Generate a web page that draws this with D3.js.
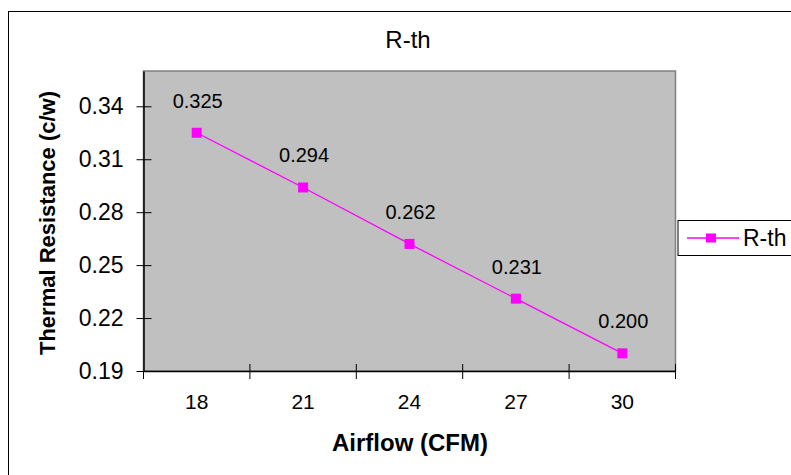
<!DOCTYPE html>
<html lang="en">
<head>
    <meta charset="UTF-8">
    <title>R-th</title>
    <script src="https://cdn.jsdelivr.net/npm/d3@7"></script>
    <style>
        body { margin: 0; background: #fff; }
        text { font-family: "Liberation Sans", Arial, sans-serif; fill: #000; }
    </style>
</head>
<body>
<div id="chart"></div>
<script type="text/javascript">
    var airflow = ['18', '21', '24', '27', '30'];
    var rth = [0.325, 0.294, 0.262, 0.231, 0.200];
    var yTicks = [0.19, 0.22, 0.25, 0.28, 0.31, 0.34];
    var seriesName = 'R-th';

    var svgw = 791, svgh = 475;
    var plotL = 143.5, plotR = 675.5, plotT = 71, plotB = 371;

    var svg = d3.select('#chart')
        .append('svg')
        .attr('width', svgw)
        .attr('height', svgh);

    // outer chart frame (runs off the right/bottom edge)
    svg.append('rect')
        .attr('x', 8.5).attr('y', 11.5)
        .attr('width', 800).attr('height', 500)
        .attr('fill', '#fff').attr('stroke', '#000').attr('stroke-width', 1);

    var x_scale = d3.scaleBand()
        .domain(airflow)
        .range([plotL, plotR]);

    var y_scale = d3.scaleLinear()
        .domain([0.19, 0.36])
        .range([plotB, plotT]);

    // plot area
    svg.append('rect')
        .attr('x', plotL).attr('y', plotT)
        .attr('width', plotR - plotL).attr('height', plotB - plotT)
        .attr('fill', '#c0c0c0').attr('stroke', '#808080').attr('stroke-width', 1.5);

    // y axis
    var y_axis = d3.axisLeft(y_scale)
        .tickValues(yTicks)
        .tickFormat(d3.format('.2f'))
        .tickSizeInner(7)
        .tickSizeOuter(0)
        .tickPadding(13);
    var gy = svg.append('g')
        .attr('transform', 'translate(' + plotL + ',0)')
        .call(y_axis);
    gy.select('.domain').attr('stroke', '#000').attr('stroke-width', 1.5);
    gy.selectAll('.tick line').attr('x1', 8).attr('stroke', '#000');
    gy.selectAll('.tick text')
        .attr('font-size', 23)
        .attr('font-family', '"Liberation Sans", Arial, sans-serif');

    // x axis: labels at category centres, tick marks at boundaries
    var x_axis = d3.axisBottom(x_scale)
        .tickSize(0)
        .tickPadding(23);
    var gx = svg.append('g')
        .attr('transform', 'translate(0,' + plotB + ')')
        .call(x_axis);
    gx.select('.domain').attr('stroke', '#000').attr('stroke-width', 1.5);
    gx.selectAll('.tick text')
        .attr('font-size', 21)
        .attr('font-family', '"Liberation Sans", Arial, sans-serif');

    var bounds = airflow.map(function (d) { return x_scale(d); }).concat([x_scale.range()[1]]);
    svg.selectAll('.xtick')
        .data(bounds)
        .enter()
        .append('line')
        .attr('class', 'xtick')
        .attr('x1', function (d) { return d; })
        .attr('x2', function (d) { return d; })
        .attr('y1', function (d, i) { return i === 0 ? plotB : plotB - 7; })
        .attr('y2', plotB + 8)
        .attr('stroke', '#000');

    var cx = function (d, i) { return x_scale(airflow[i]) + x_scale.bandwidth() / 2; };

    // series line
    var line = d3.line()
        .x(function (d, i) { return cx(d, i); })
        .y(function (d) { return y_scale(d); });
    svg.append('path')
        .datum(rth)
        .attr('d', line)
        .attr('fill', 'none')
        .attr('stroke', '#ff00ff')
        .attr('stroke-width', 1.3);

    svg.selectAll('.marker')
        .data(rth)
        .enter()
        .append('rect')
        .attr('class', 'marker')
        .attr('x', function (d, i) { return cx(d, i) - 5; })
        .attr('y', function (d) { return y_scale(d) - 5; })
        .attr('width', 10).attr('height', 10)
        .attr('fill', '#ff00ff');

    // data labels
    svg.selectAll('.dlabel')
        .data(rth)
        .enter()
        .append('text')
        .attr('class', 'dlabel')
        .text(function (d) { return d.toFixed(3); })
        .attr('x', function (d, i) { return cx(d, i) + 1; })
        .attr('y', function (d) { return y_scale(d) - 25; })
        .attr('text-anchor', 'middle')
        .attr('font-size', 20);

    // titles
    svg.append('text')
        .text(seriesName)
        .attr('x', 408).attr('y', 48)
        .attr('text-anchor', 'middle')
        .attr('font-size', 24);

    svg.append('text')
        .text('Airflow (CFM)')
        .attr('x', 410).attr('y', 451)
        .attr('text-anchor', 'middle')
        .attr('font-size', 24)
        .attr('font-weight', 'bold');

    svg.append('text')
        .text('Thermal Resistance (c/w)')
        .attr('transform', 'translate(55,223) rotate(-90)')
        .attr('text-anchor', 'middle')
        .attr('font-size', 22)
        .attr('font-weight', 'bold');

    // legend
    var lg = svg.append('g');
    lg.append('rect')
        .attr('x', 678).attr('y', 220.5)
        .attr('width', 130).attr('height', 35)
        .attr('fill', '#fff').attr('stroke', '#000').attr('stroke-width', 1);
    lg.append('line')
        .attr('x1', 687).attr('x2', 739)
        .attr('y1', 238).attr('y2', 238)
        .attr('stroke', '#ff00ff').attr('stroke-width', 1.3);
    lg.append('rect')
        .attr('x', 706).attr('y', 233.5)
        .attr('width', 10).attr('height', 9)
        .attr('fill', '#ff00ff');
    lg.append('text')
        .text(seriesName)
        .attr('x', 743).attr('y', 246)
        .attr('font-size', 23);
</script>
</body>
</html>
